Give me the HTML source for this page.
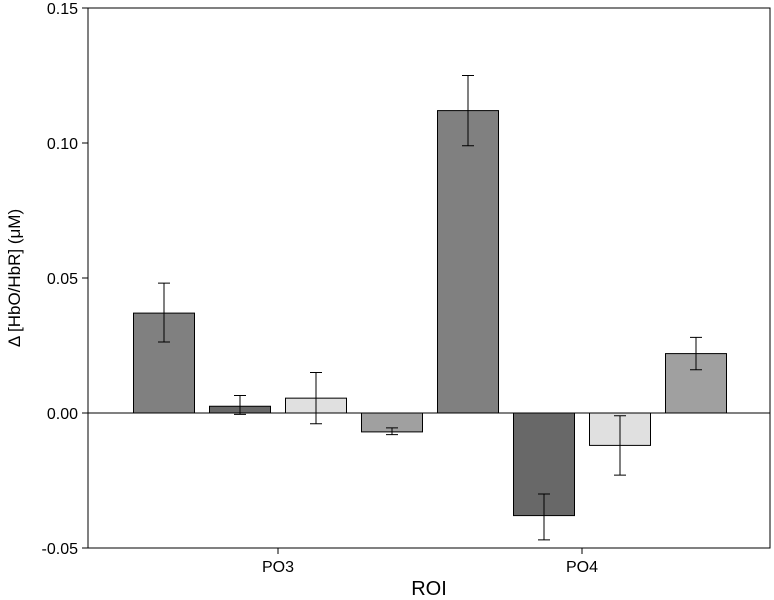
<!DOCTYPE html>
<html><head><meta charset="utf-8"><style>
body{margin:0;background:#fff;}
svg{display:block;font-family:"Liberation Sans",sans-serif;}
</style></head><body>
<svg id="chart" width="774" height="600"></svg>
<script>
const categories=["PO3","PO4"];
const values=[0.037,0.0025,0.0055,-0.007,0.112,-0.038,-0.012,0.022];
const errLow=[0.0263,-0.0005,-0.004,-0.008,0.099,-0.047,-0.023,0.016];
const errHigh=[0.0481,0.0065,0.015,-0.0055,0.125,-0.030,-0.001,0.028];
const yTicks=[-0.05,0,0.05,0.10,0.15];
const yTickLabels=["-0.05","0.00","0.05","0.10","0.15"];
const fills=["#808080","#686868","#e0e0e0","#a0a0a0"];
const NS="http://www.w3.org/2000/svg";
const svg=document.getElementById('chart');
const L=88,R=770,T=8,B=548,yMin=-0.05,yMax=0.15;
const y=v=>B-(v-yMin)/(yMax-yMin)*(B-T);
const x=i=>133+i*76;
const barW=61;
function el(t,a){const e=document.createElementNS(NS,t);for(const k in a)e.setAttribute(k,a[k]);svg.appendChild(e);return e;}
let f=el('rect',{x:L,y:T,width:R-L,height:B-T,fill:'none',stroke:'#000','stroke-width':1});


let z=el('line',{x1:L,x2:R,y1:y(0),y2:y(0),stroke:'#000'});


values.forEach((v,i)=>{
  const top=Math.min(y(v),y(0)),h=Math.abs(y(v)-y(0));
  const r=el('rect',{x:x(i)+0.5,y:top,width:barW,height:h,fill:fills[i%4],stroke:'#000','stroke-width':1});
  
  
  const cx=x(i)+0.5+barW/2;
  const g=el('path',{d:`M${cx},${y(errLow[i])}V${y(errHigh[i])}M${cx-6},${y(errLow[i])}H${cx+6}M${cx-6},${y(errHigh[i])}H${cx+6}`,stroke:'#000',fill:'none','stroke-width':1});
  
  
});
yTicks.forEach((t,i)=>{
  const tk=el('line',{x1:L-6,x2:L,y1:y(t),y2:y(t),stroke:'#000'});
  
  
  const tx=el('text',{x:L-10,y:y(t)+6,'text-anchor':'end','font-size':16});
  tx.textContent=yTickLabels[i];
  
  
});
categories.forEach((c,i)=>{
  const cx=(x(i*4+1)+x(i*4+2)+barW)/2+0.5;
  const tk=el('line',{x1:cx,x2:cx,y1:B,y2:B+6,stroke:'#000'});
  
  
  const tx=el('text',{x:cx,y:B+24,'text-anchor':'middle','font-size':16});
  tx.textContent=c;
  
  
});
const xt=el('text',{x:429,y:595,'text-anchor':'middle','font-size':20});
xt.textContent='ROI';


const yt=el('text',{x:0,y:0,'text-anchor':'middle','font-size':17,transform:'translate(20,278) rotate(-90)'});
yt.textContent='Δ [HbO/HbR] (μM)';


</script>
</body></html>
